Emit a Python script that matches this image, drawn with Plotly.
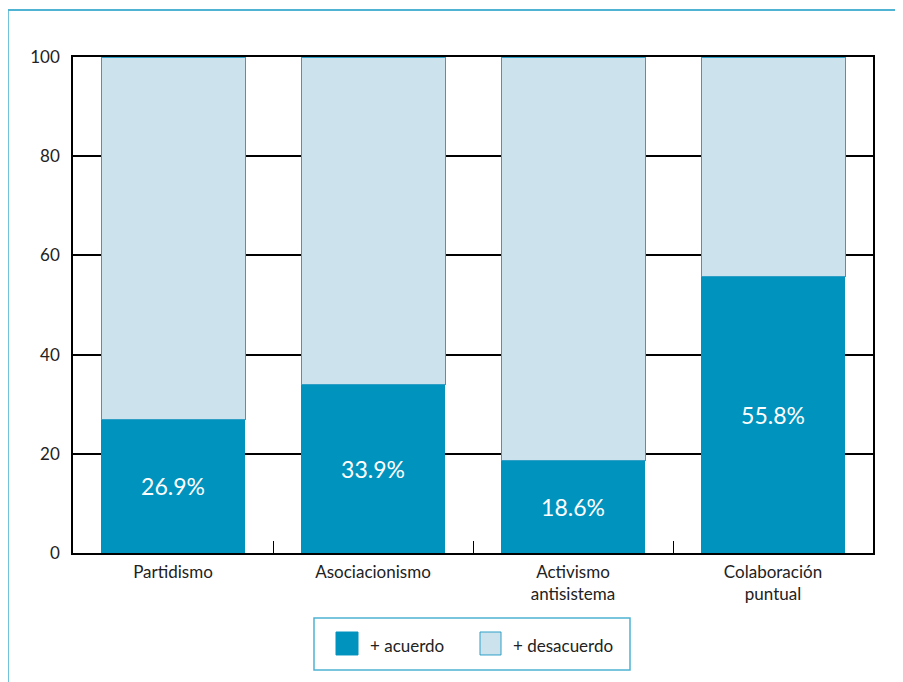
import plotly.graph_objects as go

# Categories and values
categorias = ["Partidismo", "Asociacionismo", "Activismo<br>antisistema", "Colaboración<br>puntual"]
acuerdo = [26.9, 33.9, 18.6, 55.8]
desacuerdo = [73.1, 66.1, 81.4, 44.2]
y_ticks = [0, 20, 40, 60, 80, 100]
leyenda = ["+ acuerdo", "+ desacuerdo"]

dark = "#0093bd"
light = "#cce3ee"
edge = "#2f9fc6"
frame = "#4fb3d3"
fuente = "Lato"

fig = go.Figure()

fig.add_trace(go.Bar(x=categorias, y=acuerdo, name=leyenda[0],
                     marker=dict(color=dark, line=dict(width=0)),
                     text=[f"{v}%" for v in acuerdo], textposition="inside",
                     insidetextanchor="middle",
                     textfont=dict(color="white", size=23, family=fuente),
                     showlegend=False, width=0.72))
fig.add_trace(go.Bar(x=categorias, y=desacuerdo, name=leyenda[1],
                     marker=dict(color=light, line=dict(color=edge, width=1)),
                     showlegend=False, width=0.72))

# outer frame
fig.add_shape(type="rect", xref="paper", yref="paper",
              x0=-0.0815, x1=1.2, y0=-0.4, y1=1.0948,
              line=dict(color=frame, width=2), fillcolor="rgba(0,0,0,0)", layer="below")

# legend box, drawn by hand so the swatches can be large
fig.add_shape(type="rect", xref="paper", yref="paper",
              x0=0.30125, x1=0.69625, y0=-0.2359, y1=-0.131,
              line=dict(color=frame, width=1.5), fillcolor="white")
for x0, x1, col, tx, txt in [(0.32875, 0.35625, dark, 0.36875, leyenda[0]),
                             (0.50875, 0.535, light, 0.5475, leyenda[1])]:
    fig.add_shape(type="rect", xref="paper", yref="paper",
                  x0=x0, x1=x1, y0=-0.2056, y1=-0.1593,
                  line=dict(color=edge if col == light else dark, width=1), fillcolor=col)
    fig.add_annotation(x=tx, y=-0.1865, xref="paper", yref="paper", text=txt,
                       showarrow=False, xanchor="left", yanchor="middle",
                       font=dict(size=17, family=fuente, color="#222222"))

fig.update_layout(
    barmode="stack",
    width=895, height=674,
    margin=dict(l=65, r=30, t=49, b=129),
    paper_bgcolor="white", plot_bgcolor="white",
    font=dict(family=fuente, size=16, color="#222222"),
    showlegend=False,
    xaxis=dict(showline=True, linecolor="black", linewidth=1.5, mirror=True,
               ticks="inside", tickson="boundaries", ticklen=12, tickcolor="black",
               tickwidth=1.2, showgrid=False, tickfont=dict(size=17),
               ticklabelstandoff=3),
    yaxis=dict(range=[0, 100], tickvals=y_ticks, showline=True, linecolor="black",
               linewidth=1.5, mirror=True, showgrid=True, gridcolor="black",
               gridwidth=1.5, zeroline=False, ticks="", ticklabelstandoff=8,
               tickfont=dict(size=17)),
)

fig.write_html("out.html")
